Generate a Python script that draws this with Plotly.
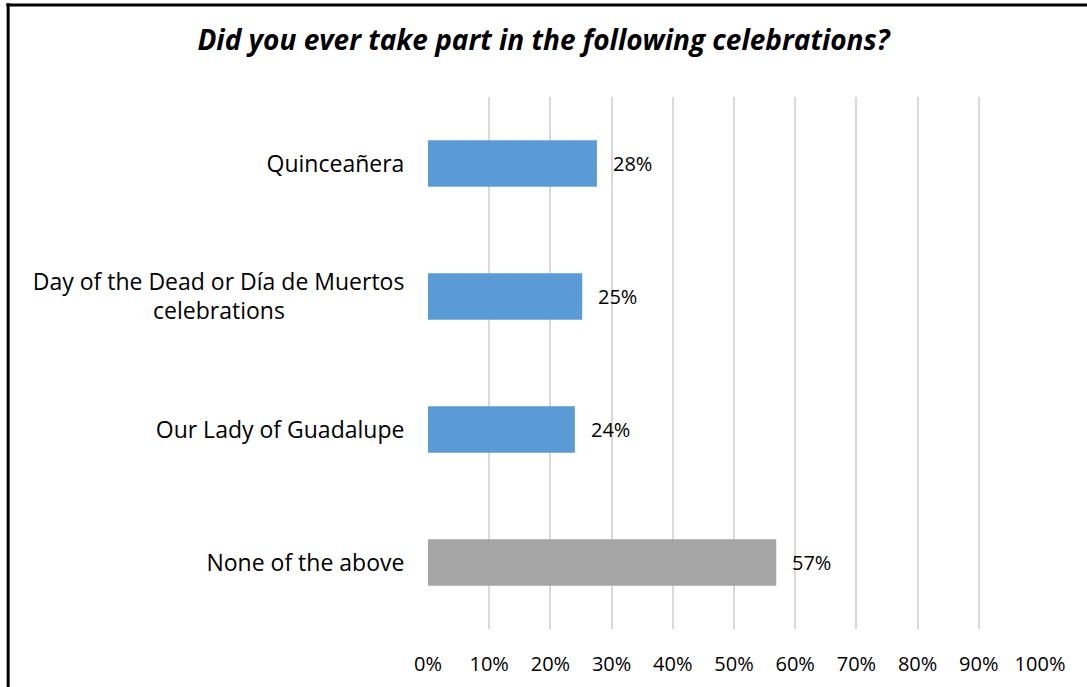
import plotly.graph_objects as go

# Survey answers
categories = ["Quinceañera",
              "Day of the Dead or Día de Muertos<br>celebrations" + "\u00a0" * 20,
              "Our Lady of Guadalupe",
              "None of the above"]
shares = [0.276, 0.252, 0.24, 0.569]
bar_colors = ["#5B9BD5", "#5B9BD5", "#5B9BD5", "#A5A5A5"]
tick_vals = [0, 0.1, 0.2, 0.3, 0.4, 0.5, 0.6, 0.7, 0.8, 0.9, 1.0]
tick_text = ["0%", "10%", "20%", "30%", "40%", "50%", "60%", "70%", "80%", "90%", "100%"]

font_family = "'Open Sans', sans-serif"

fig = go.Figure(go.Bar(
    x=shares,
    y=categories,
    orientation="h",
    marker=dict(color=bar_colors, line=dict(width=0)),
    width=0.35,
))

# percentage labels to the right of each bar
for val, cat in zip(shares, categories):
    fig.add_annotation(x=val, y=cat, text=f"{round(val * 100)}%", showarrow=False,
                       xanchor="left", xshift=14, font=dict(size=20, color="#000000"))

fig.update_layout(
    width=1087, height=687,
    paper_bgcolor="white", plot_bgcolor="white",
    margin=dict(l=428, r=47, t=97, b=58),
    font=dict(family=font_family, color="#000000"),
    title=dict(text="<b><i>Did you ever take part in the following celebrations?</i></b>",
               x=0.5, xanchor="center", y=0.942, yanchor="middle",
               font=dict(size=28, color="#000000")),
    showlegend=False,
)

fig.update_xaxes(range=[0, 1.0], tickvals=tick_vals, ticktext=tick_text,
                 showgrid=True, gridcolor="#D9D9D9", gridwidth=2,
                 zeroline=False, showline=False, automargin=False,
                 ticks="outside", ticklen=17, tickcolor="rgba(0,0,0,0)",
                 tickfont=dict(size=20))
fig.update_yaxes(autorange="reversed", showgrid=False, showline=False, automargin=False,
                 ticks="outside", ticklen=18, tickcolor="rgba(0,0,0,0)",
                 tickfont=dict(size=23))

# frame lines along left and top edges of the picture
fig.add_shape(type="line", xref="paper", yref="paper",
              x0=-0.686, x1=-0.686, y0=1.176, y1=-0.2,
              line=dict(color="black", width=3))
fig.add_shape(type="line", xref="paper", yref="paper",
              x0=-0.689, x1=1.1, y0=1.173, y1=1.173,
              line=dict(color="black", width=3))

# drop the browser's default 8px body margin so the figure fills the window
fig.write_html("out.html", config={"displayModeBar": False},
               post_script="document.body.style.margin = '0';")
